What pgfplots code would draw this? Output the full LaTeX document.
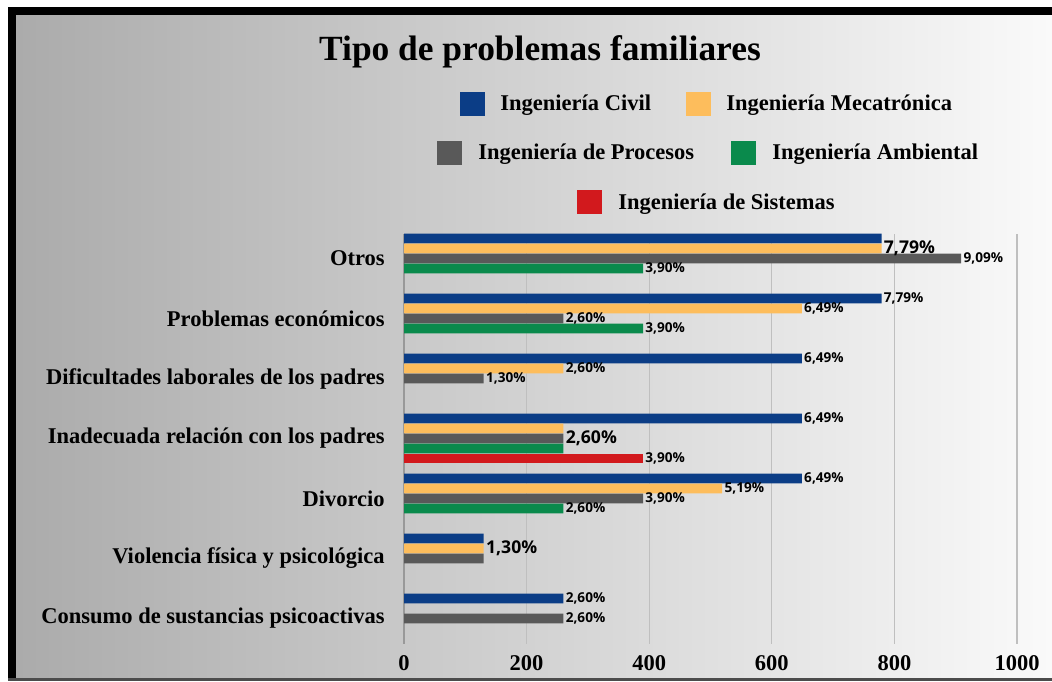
\documentclass[border=0pt]{standalone}
\usepackage{fontspec}
\setmainfont{Liberation Serif}
\newfontfamily\valfont{Open Sans}
\usepackage{pgfplots}
\pgfplotsset{compat=1.18}

\definecolor{civil}{HTML}{0B3D86}
\definecolor{meca}{HTML}{FDBD5C}
\definecolor{proc}{HTML}{595959}
\definecolor{amb}{HTML}{0A8A4C}
\definecolor{sis}{HTML}{D2191D}
\definecolor{bgl}{HTML}{ABABAB}
\definecolor{bgr}{HTML}{FAFAFA}

% bigger value labels
\protected\def\B#1{{\fontsize{8.8}{10}\selectfont #1}}
\newcommand\legfont{\bfseries\fontsize{11.25}{13}\selectfont}

\begin{document}
\begin{tikzpicture}
% frame and background, in pixel units (y downwards)
\begin{scope}[x=0.5pt,y=-0.5pt,yshift=340.5pt]
  \fill[white] (0,0) rectangle (1052,681);
  \shade[left color=bgl,right color=bgr] (16,15) rectangle (1052,678);
  \fill[black] (8,7) rectangle (1052,15);
  \fill[black] (8,7) rectangle (16,678);
  \fill[black!70] (8,678) rectangle (1052,681);
\end{scope}

% categories sit at 0..6 (Otros = 6); each series is offset by 1/6 inside its group
\begin{axis}[
  at={(202pt,18.75pt)}, anchor=south west,
  scale only axis, width=306.5pt, height=205pt,
  xbar, bar width=0.16, bar shift=0pt,
  xmin=0, xmax=1000, ymin=-0.41667, ymax=6.41667,
  axis x line*=bottom, axis y line*=left,
  x axis line style={draw=none},
  y axis line style={draw=black!40, line width=0.8pt},
  major tick length=0,
  xtick={0,200,...,1000}, ytick={0,...,6},
  yticklabels={Consumo de sustancias psicoactivas, Violencia física y psicológica, Divorcio, Inadecuada relación con los padres, Dificultades laborales de los padres, Problemas económicos, Otros},
  xmajorgrids, grid style={black!25, line width=0.6pt},
  tick label style={font=\bfseries\fontsize{11.25}{13}\selectfont, inner sep=0pt},
  xticklabel style={yshift=-6pt},
  yticklabel style={xshift=-9.5pt},
  /pgf/number format/assume math mode=true,
  /pgf/number format/1000 sep={},
  point meta=explicit symbolic,
  nodes near coords={\pgfplotspointmeta},
  every node near coord/.append style={font=\valfont\bfseries\fontsize{6.8}{8}\selectfont, anchor=west, inner sep=1pt, text=black},
]
% Ingenieria Civil
\addplot[fill=civil, draw=none] coordinates {
  (779,6.3333) [] (779,5.3333) [7,79\%] (649,4.3333) [6,49\%] (649,3.3333) [6,49\%]
  (649,2.3333) [6,49\%] (130,1.3333) [] (260,0.3333) [2,60\%]};
% Ingenieria Mecatronica
\addplot[fill=meca, draw=none] coordinates {
  (779,6.1667) [\B{7,79\%}] (649,5.1667) [6,49\%] (260,4.1667) [2,60\%] (260,3.1667) []
  (519,2.1667) [5,19\%] (130,1.1667) [\B{1,30\%}]};
% Ingenieria de Procesos
\addplot[fill=proc, draw=none] coordinates {
  (909,6) [9,09\%] (260,5) [2,60\%] (130,4) [1,30\%] (260,3) [\B{2,60\%}]
  (390,2) [3,90\%] (130,1) [] (260,0) [2,60\%]};
% Ingenieria Ambiental
\addplot[fill=amb, draw=none] coordinates {
  (390,5.8333) [3,90\%] (390,4.8333) [3,90\%] (260,2.8333) [] (260,1.8333) [2,60\%]};
% Ingenieria de Sistemas
\addplot[fill=sis, draw=none] coordinates {
  (390,2.6667) [3,90\%]};
\end{axis}

% title and legend
\begin{scope}[x=0.5pt,y=-0.5pt,yshift=340.5pt]
  \node[font=\bfseries\fontsize{17.7}{20}\selectfont, inner sep=0pt] at (540,52) {Tipo de problemas familiares};
  \fill[civil] (460,92) rectangle (485,116);
  \node[font=\legfont, anchor=base west, inner sep=0pt] at (500,111) {Ingeniería Civil};
  \fill[meca] (686,92) rectangle (711,116);
  \node[font=\legfont, anchor=base west, inner sep=0pt] at (726,111) {Ingeniería Mecatrónica};
  \fill[proc] (437,141) rectangle (462,165);
  \node[font=\legfont, anchor=base west, inner sep=0pt] at (478,160) {Ingeniería de Procesos};
  \fill[amb] (731,141) rectangle (756,165);
  \node[font=\legfont, anchor=base west, inner sep=0pt] at (772,160) {Ingeniería Ambiental};
  \fill[sis] (577,190) rectangle (602,214);
  \node[font=\legfont, anchor=base west, inner sep=0pt] at (618,209) {Ingeniería de Sistemas};
\end{scope}
\end{tikzpicture}
\end{document}
